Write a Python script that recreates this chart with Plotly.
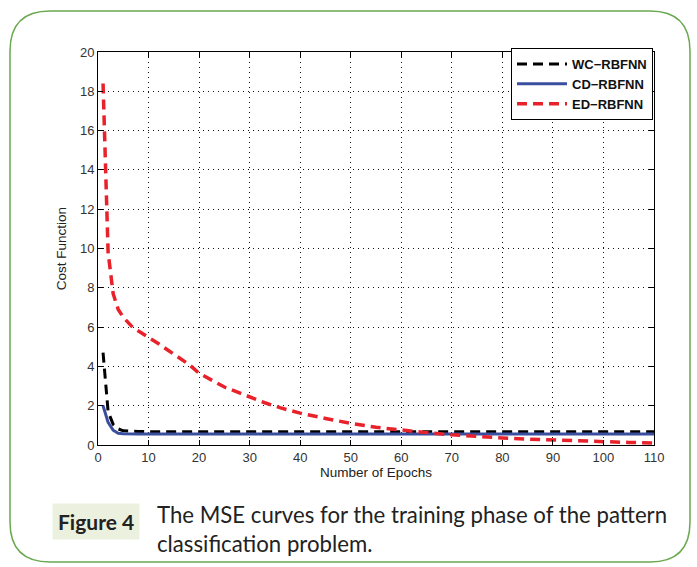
import plotly.graph_objects as go

# ---------------- data ----------------
wc_epochs = [1, 2, 3, 4, 5, 6, 8, 10, 15, 20, 25, 30, 35, 40, 45, 50, 55, 60, 65, 70, 75, 80, 85, 90, 95, 100, 105, 110]
wc_cost = [4.7, 1.7, 1.05, 0.82, 0.72, 0.7, 0.69, 0.68, 0.68, 0.69, 0.68, 0.68, 0.67, 0.68, 0.68, 0.68, 0.68, 0.67, 0.68, 0.68, 0.7, 0.69, 0.68, 0.68, 0.67, 0.69, 0.67, 0.68]

cd_epochs = [1, 2, 3, 4, 5, 6, 8, 10, 20, 30, 40, 50, 60, 70, 80, 90, 100, 110]
cd_cost = [2.0, 1.15, 0.75, 0.6, 0.57, 0.56, 0.56, 0.56, 0.56, 0.56, 0.56, 0.56, 0.56, 0.56, 0.56, 0.56, 0.56, 0.56]

ed_epochs = [1, 2, 3, 4, 5, 6, 7, 8, 10, 12, 14, 16, 18, 20, 22, 25, 28, 30, 33, 36, 40, 45, 50, 55, 60, 65, 70, 75, 80, 85, 90, 95, 100, 105, 110]
ed_cost = [18.4, 9.8, 7.7, 6.9, 6.5, 6.2, 5.95, 5.8, 5.5, 5.15, 4.8, 4.45, 4.1, 3.65, 3.35, 2.95, 2.65, 2.45, 2.15, 1.9, 1.62, 1.35, 1.1, 0.9, 0.75, 0.63, 0.52, 0.43, 0.36, 0.3, 0.25, 0.2, 0.16, 0.13, 0.1]

series_names = ["WC\u2212RBFNN", "CD\u2212RBFNN", "ED\u2212RBFNN"]
x_ticks = list(range(0, 111, 10))
y_ticks = list(range(0, 21, 2))

fig_label = "Figure 4"
caption = "The MSE curves for the training phase of the pattern<br>classification problem."

# ---------------- layout helpers ----------------
W, H = 697, 567
ML, MR, MT, MB = 98, 43, 52, 122
PW, PH = W - ML - MR, H - MT - MB


def px2x(px):
    return (px - ML) / PW


def py2y(py):
    return (H - MB - py) / PH


fig = go.Figure()
fig.add_trace(go.Scatter(x=wc_epochs, y=wc_cost, mode="lines", name=series_names[0],
                         line=dict(color="#000000", width=3, dash="10px,6px")))
fig.add_trace(go.Scatter(x=cd_epochs, y=cd_cost, mode="lines", name=series_names[1],
                         line=dict(color="#3a4ea0", width=3)))
fig.add_trace(go.Scatter(x=ed_epochs, y=ed_cost, mode="lines", name=series_names[2],
                         line=dict(color="#e8212b", width=3.5, dash="10px,6px")))

axis_font = dict(family="Liberation Sans, Arial", size=13, color="#333")
title_font = dict(family="Liberation Sans, Arial", size=13.5, color="#222")
axis_common = dict(
    showline=True, linecolor="black", linewidth=1, mirror="ticks",
    ticks="inside", ticklen=5, tickcolor="black",
    showgrid=True, gridcolor="#111", gridwidth=1, griddash="1px,4px",
    zeroline=False,
    tickfont=axis_font,
)

fig.update_xaxes(range=[0, 110], tickvals=x_ticks,
                 title=dict(text="Number of Epochs", standoff=2, font=title_font),
                 **axis_common)
fig.update_yaxes(range=[0, 20], tickvals=y_ticks,
                 title=dict(text="Cost Function", standoff=10, font=title_font),
                 **axis_common)

# rounded green frame
x0, x1, y0, y1, r = 10, 690, 11, 562, 40
pts = [
    ("M", [(x0 + r, y0)]), ("L", [(x1 - r, y0)]), ("Q", [(x1, y0), (x1, y0 + r)]),
    ("L", [(x1, y1 - r)]), ("Q", [(x1, y1), (x1 - r, y1)]),
    ("L", [(x0 + r, y1)]), ("Q", [(x0, y1), (x0, y1 - r)]),
    ("L", [(x0, y0 + r)]), ("Q", [(x0, y0), (x0 + r, y0)]),
]
path = ""
for cmd, ps in pts:
    path += cmd + " ".join(f"{px2x(a):.5f},{py2y(b):.5f}" for a, b in ps) + " "
path += "Z"

fig.update_layout(
    width=W, height=H,
    margin=dict(l=ML, r=MR, t=MT, b=MB),
    paper_bgcolor="white", plot_bgcolor="white",
    showlegend=True,
    legend=dict(x=px2x(653), xanchor="right", y=py2y(48), yanchor="top",
                bgcolor="white", bordercolor="black", borderwidth=1,
                font=dict(family="Liberation Sans, Arial", size=13, color="#111", weight="bold"),
                itemwidth=50, tracegroupgap=0),
    shapes=[dict(type="path", xref="paper", yref="paper", path=path,
                 line=dict(color="#6aa84f", width=1.5), layer="below")],
    annotations=[
        dict(xref="paper", yref="paper", x=px2x(140), y=py2y(521), xanchor="right", yanchor="middle",
             text="<b>" + fig_label + "</b>", showarrow=False, bgcolor="#ebf1de",
             borderpad=5, font=dict(family="Lato", size=21, color="#222")),
        dict(xref="paper", yref="paper", x=px2x(155), y=py2y(529), xanchor="left", yanchor="middle",
             text=caption, showarrow=False, align="left",
             font=dict(family="Lato", size=22.2, color="#222")),
    ],
)

fig.write_html("out.html", config={"displayModeBar": False},
               post_script="document.body.style.margin='0';document.body.style.overflow='hidden';")
